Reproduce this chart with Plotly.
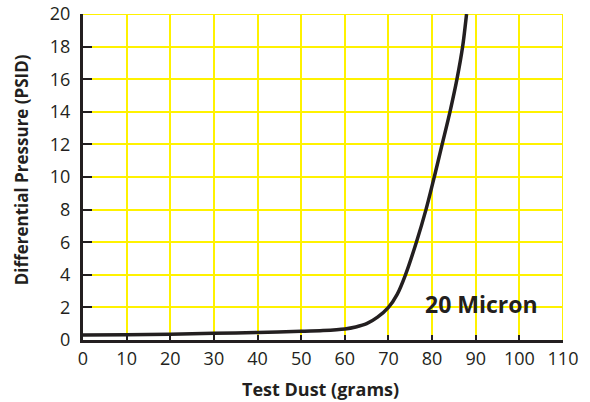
import plotly.graph_objects as go

# Data
dust_grams = [0, 10, 20, 30, 40, 50, 55, 60, 62.5, 65, 67.5, 70, 72, 73.9, 76.4, 78.6, 80.5, 82.3, 84.1, 85.7, 87.0, 87.9]
pressure_psid = [0.3, 0.32, 0.36, 0.41, 0.46, 0.53, 0.58, 0.68, 0.8, 1.0, 1.4, 2.0, 2.8, 4.0, 6.0, 8.0, 10.0, 12.0, 14.0, 16.0, 18.0, 20.0]
x_ticks = [0, 10, 20, 30, 40, 50, 60, 70, 80, 90, 100, 110]
y_ticks = [0, 2, 4, 6, 8, 10, 12, 14, 16, 18, 20]
series_label = "20 Micron"
x_title = "Test Dust (grams)"
y_title = "Differential Pressure (PSID)"

FONT = "Open Sans"
INK = "#231f20"
GRID = "#fff200"

fig = go.Figure()
fig.add_trace(go.Scatter(
    x=dust_grams, y=pressure_psid, mode="lines",
    line=dict(color=INK, width=3.5, shape="spline", smoothing=0.8),
    showlegend=False, hoverinfo="skip", cliponaxis=True,
))

fig.add_annotation(x=91.4, y=2.2, xref="x", yref="y", text="<b>" + series_label + "</b>",
                   showarrow=False, font=dict(family=FONT, size=23, color=INK),
                   xanchor="center", yanchor="middle")
fig.add_annotation(x=0.495, y=-0.15, xref="paper", yref="paper", text="<b>" + x_title + "</b>",
                   showarrow=False, font=dict(family=FONT, size=18, color=INK),
                   xanchor="center", yanchor="middle")
fig.add_annotation(x=-0.129, y=0.521, xref="paper", yref="paper", text="<b>" + y_title + "</b>",
                   showarrow=False, font=dict(family=FONT, size=17, color=INK), textangle=-90,
                   xanchor="center", yanchor="middle")

fig.update_layout(
    width=590, height=402,
    margin=dict(l=83, r=27, t=14, b=62, autoexpand=False),
    paper_bgcolor="white", plot_bgcolor="white",
    font=dict(family=FONT, color=INK),
)
fig.update_xaxes(
    range=[0, 110], tickvals=x_ticks, ticktext=[str(v) for v in x_ticks],
    showgrid=True, gridcolor=GRID, gridwidth=2,
    showline=True, linecolor=INK, linewidth=3,
    ticks="inside", ticklen=5, tickwidth=2, tickcolor=INK,
    tickfont=dict(family=FONT, size=18, color=INK), ticklabelstandoff=0,
    zeroline=False, automargin=False,
)
fig.update_yaxes(
    range=[0, 20], tickvals=y_ticks, ticktext=[str(v) for v in y_ticks],
    showgrid=True, gridcolor=GRID, gridwidth=2,
    showline=True, linecolor=INK, linewidth=3,
    ticks="inside", ticklen=9, tickwidth=2, tickcolor=INK,
    tickfont=dict(family=FONT, size=18, color=INK), ticklabelstandoff=6,
    zeroline=False, automargin=False,
)
# right and top yellow borders
fig.add_shape(type="line", x0=110, x1=110, y0=0, y1=20, xref="x", yref="y", line=dict(color=GRID, width=2), layer="below")
fig.add_shape(type="line", x0=0, x1=110, y0=20, y1=20, xref="x", yref="y", line=dict(color=GRID, width=2), layer="below")

fig.write_html("out.html", config={"displayModeBar": False},
               post_script="document.body.style.margin='0';")
